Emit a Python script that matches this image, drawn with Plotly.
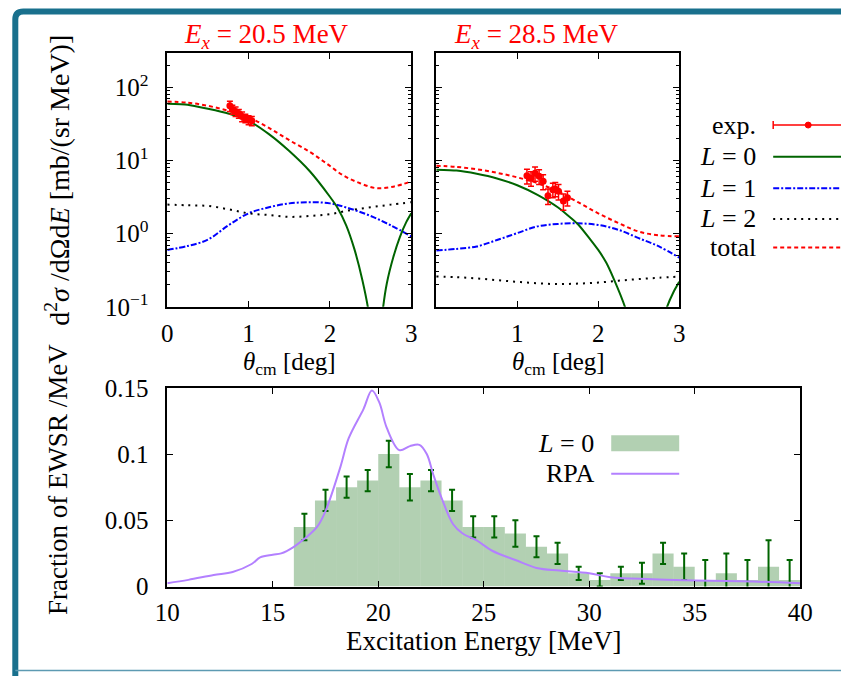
import plotly.graph_objects as go

W, H = 841, 676
# The photographed picture is the page scaled by ~0.9716 and centred; reference pixel
# positions are mapped back to page pixels with this transform.
SC, OFX, OFY = 0.9716, 11.7, 9.6

# ---------------- data ----------------
# Top-left panel (Ex = 20.5 MeV)
th_L0_a = [0, 0.25, 0.5, 0.75, 1.0, 1.25, 1.5, 1.75, 2.0, 2.1, 2.2, 2.3, 2.4, 2.48, 2.53, 2.56,
           2.6, 2.65, 2.7, 2.78, 2.86, 2.94, 3.0]
L0_a = [60, 58, 51, 44, 35, 23, 13.5, 7.2, 3.2, 2.2, 1.3, 0.62, 0.23, 0.08, 0.02, 0.003,
        0.02, 0.09, 0.21, 0.48, 0.9, 1.45, 1.9]
th_a = [0, 0.25, 0.5, 0.75, 1.0, 1.25, 1.5, 1.75, 2.0, 2.25, 2.5, 2.75, 3.0]
L1_a = [0.6, 0.68, 0.83, 1.3, 1.9, 2.3, 2.6, 2.7, 2.6, 2.2, 1.75, 1.3, 0.92]
L2_a = [2.5, 2.45, 2.4, 2.16, 1.9, 1.8, 1.7, 1.75, 1.85, 2.1, 2.3, 2.5, 2.7]
th_tot_a = [0, 0.25, 0.5, 0.75, 1.0, 1.25, 1.5, 1.75, 1.96, 2.16, 2.37, 2.57, 2.78, 3.0]
tot_a = [64, 62, 56, 48, 39, 28, 19, 13.2, 9.1, 6.3, 4.9, 4.2, 4.4, 5.2]
exp_th_a = [0.77, 0.80, 0.84, 0.88, 0.92, 0.96, 1.00, 1.04]
exp_a = [56, 50, 47, 44, 40, 38, 36, 35]
exp_err_a = [9, 7, 7, 6, 6, 5, 5, 5]

# Top-right panel (Ex = 28.5 MeV)
th_L0_b = [0, 0.25, 0.5, 0.75, 1.0, 1.25, 1.5, 1.75, 2.0, 2.1, 2.2, 2.33, 2.45, 2.55, 2.6,
           2.65, 2.75, 2.85, 2.93, 3.0]
L0_b = [7.5, 7.3, 6.6, 5.7, 4.6, 3.4, 2.3, 1.35, 0.6, 0.4, 0.23, 0.1, 0.035, 0.006, 0.0008,
        0.006, 0.04, 0.1, 0.16, 0.22]
th_b = [0, 0.25, 0.5, 0.75, 1.0, 1.25, 1.5, 1.75, 2.0, 2.25, 2.5, 2.75, 3.0]
L1_b = [0.59, 0.62, 0.67, 0.82, 1.02, 1.26, 1.36, 1.39, 1.32, 1.13, 0.87, 0.67, 0.47]
L2_b = [0.26, 0.255, 0.245, 0.232, 0.22, 0.21, 0.205, 0.208, 0.215, 0.228, 0.24, 0.25, 0.26]
tot_b = [8.5, 8.2, 7.6, 6.8, 5.9, 4.9, 3.8, 2.7, 1.9, 1.4, 1.07, 0.95, 0.92]
exp_th_b = [1.12, 1.17, 1.22, 1.27, 1.32, 1.38, 1.44, 1.47, 1.51, 1.57, 1.62]
exp_b = [6.2, 5.75, 6.7, 6.1, 5.2, 3.3, 4.0, 4.1, 3.8, 2.8, 3.1]
exp_err_b = [1.4, 1.3, 1.5, 1.4, 1.2, 0.8, 0.9, 0.9, 0.9, 0.7, 0.7]

# Bottom panel
bin_centers = [16.5 + i for i in range(24)]
ewsr = [0.045, 0.065, 0.075, 0.080, 0.100, 0.075, 0.080, 0.065, 0.045, 0.045, 0.040, 0.030,
        0.025, 0.010, 0.005, 0.010, 0.010, 0.025, 0.015, 0.005, 0.010, 0.005, 0.015, 0.005]
ewsr_err = [0.010, 0.008, 0.008, 0.008, 0.010, 0.010, 0.008, 0.008, 0.008, 0.008, 0.010, 0.008,
            0.008, 0.005, 0.005, 0.005, 0.008, 0.008, 0.010, 0.015, 0.015, 0.015, 0.020, 0.015]
rpa_e = [10, 11, 12.2, 13.1, 14.0, 14.4, 15.0, 15.4, 16.0, 16.5, 17.1, 17.5, 18.2, 18.6, 19.3, 19.7,
         20.05, 20.4, 21.0, 21.5, 21.95, 22.3, 22.6, 23.0, 23.55, 24.0, 24.65, 25.4, 26.5, 27.5,
         28.6, 30, 31, 33, 35, 37.8, 40]
rpa_v = [0.0025, 0.005, 0.0087, 0.011, 0.017, 0.022, 0.024, 0.025, 0.030, 0.036, 0.045, 0.057,
         0.090, 0.112, 0.134, 0.148, 0.139, 0.120, 0.103, 0.106, 0.107, 0.100, 0.085, 0.067,
         0.047, 0.040, 0.035, 0.027, 0.020, 0.014, 0.012, 0.010, 0.007, 0.0055, 0.0045, 0.0037, 0.0025]

log_ticks = [0.1, 1, 10, 100]
log_ticktext = ["10<sup>\u22121</sup>", "10<sup>0</sup>", "10<sup>1</sup>", "10<sup>2</sup>"]
theta_ticks = [0, 1, 2, 3]
e_ticks = [10, 15, 20, 25, 30, 35, 40]
frac_ticks = [0, 0.05, 0.1, 0.15]
frac_ticktext = ["0", "0.05", "0.1", "0.15"]

# ---------------- style ----------------
FONT = "Liberation Serif, Times New Roman, Times, serif"
FS = 25
RED = "#ff0000"
GREEN = "#006400"
BLUE = "#0000ff"
BLACK = "#000000"
PURPLE = "#b380ff"
BARFILL = "rgba(0,100,0,0.3)"
TEAL = "#19708d"


def px(x):
    return ((x - OFX) / SC) / W


def py(y):
    return 1 - ((y - OFY) / SC) / H


fig = go.Figure()


def add_panel(xa, ya, thL0, L0, th, L1, L2, thT, tot, eth, ev, ee):
    fig.add_trace(go.Scatter(x=th, y=L1, mode="lines", xaxis=xa, yaxis=ya, line_shape="spline",
                             line=dict(color=BLUE, width=2, dash="6px,2px,2px,2px"), showlegend=False))
    fig.add_trace(go.Scatter(x=th, y=L2, mode="lines", xaxis=xa, yaxis=ya, line_shape="spline",
                             line=dict(color=BLACK, width=2, dash="2px,5px"), showlegend=False))
    fig.add_trace(go.Scatter(x=thT, y=tot, mode="lines", xaxis=xa, yaxis=ya, line_shape="spline",
                             line=dict(color=RED, width=2, dash="4px,3px"), showlegend=False))
    fig.add_trace(go.Scatter(x=thL0, y=L0, mode="lines", xaxis=xa, yaxis=ya, line_shape="spline",
                             line=dict(color=GREEN, width=2, smoothing=0.5), showlegend=False))
    fig.add_trace(go.Scatter(x=eth, y=ev, mode="markers", xaxis=xa, yaxis=ya,
                             marker=dict(color=RED, size=7),
                             error_y=dict(type="data", array=ee, color=RED, thickness=1.5, width=3),
                             showlegend=False))


add_panel("x", "y", th_L0_a, L0_a, th_a, L1_a, L2_a, th_tot_a, tot_a, exp_th_a, exp_a, exp_err_a)
add_panel("x2", "y2", th_L0_b, L0_b, th_b, L1_b, L2_b, th_b, tot_b, exp_th_b, exp_b, exp_err_b)

fig.add_trace(go.Bar(x=bin_centers, y=ewsr, width=1, xaxis="x3", yaxis="y3",
                     marker=dict(color=BARFILL, line=dict(width=0)),
                     error_y=dict(type="data", array=ewsr_err, color=GREEN, thickness=2, width=3),
                     showlegend=False))
fig.add_trace(go.Scatter(x=rpa_e, y=rpa_v, mode="lines", xaxis="x3", yaxis="y3", line_shape="spline",
                         line=dict(color=PURPLE, width=2), showlegend=False))

axis_common = dict(showline=True, linecolor=BLACK, linewidth=1.5, mirror="allticks", ticks="inside",
                   ticklen=6, tickcolor=BLACK, tickwidth=1, showgrid=False, zeroline=False,
                   tickfont=dict(family=FONT, size=FS, color=BLACK))
xstand = dict(ticklabelstandoff=3)
ystand = dict(ticklabelstandoff=12)
minor_log = dict(ticks="inside", ticklen=3, dtick="D1", tickcolor=BLACK, showgrid=False)
yr = [-1, 2.472]

fig.update_layout(
    width=W, height=H, margin=dict(l=0, r=0, t=0, b=0), autosize=False,
    paper_bgcolor="white", plot_bgcolor="white", showlegend=False, barmode="overlay",
    xaxis=dict(domain=[px(167), px(411)], range=[0, 3], tickmode="array", tickvals=theta_ticks,
               anchor="y", **axis_common, **xstand),
    yaxis=dict(domain=[py(307), py(50)], type="log", range=yr, tickmode="array", tickvals=log_ticks,
               ticktext=log_ticktext, minor=minor_log, anchor="x", **axis_common, **ystand),
    xaxis2=dict(domain=[px(436), px(679)], range=[0, 3], tickmode="array", tickvals=theta_ticks,
                ticktext=["", "1", "2", "3"], anchor="y2", **axis_common, **xstand),
    yaxis2=dict(domain=[py(307), py(50)], type="log", range=yr, tickmode="array", tickvals=log_ticks,
                showticklabels=False, minor=minor_log, anchor="x2", **axis_common, **ystand),
    xaxis3=dict(domain=[px(167), px(800)], range=[10, 40], tickmode="array", tickvals=e_ticks,
                anchor="y3", **axis_common, **xstand),
    yaxis3=dict(domain=[py(590), py(389)], range=[0, 0.15], tickmode="array", tickvals=frac_ticks,
                ticktext=frac_ticktext, anchor="x3", **axis_common, **ystand),
)

ann = []


def text(x, y, s, color=BLACK, xanchor="center", angle=0, size=25):
    ann.append(dict(x=px(x), y=py(y), xref="paper", yref="paper", text=s, showarrow=False,
                    xanchor=xanchor, yanchor="middle", textangle=angle,
                    font=dict(family=FONT, size=size, color=color)))


EQ = " = "
text(266, 33, "<i>E<sub>x</sub></i>" + EQ + "20.5 MeV", color=RED, size=27)
text(536, 33, "<i>E<sub>x</sub></i>" + EQ + "28.5 MeV", color=RED, size=27)
text(289, 364, "<i>θ</i><sub>cm</sub> [deg]", size=25)
text(558, 364, "<i>θ</i><sub>cm</sub> [deg]", size=25)
text(483, 645, "Excitation Energy [MeV]", size=27)
text(57, 179, "d<sup>2</sup><i>σ</i> /dΩd<i>E</i> [mb/(sr MeV)]", angle=-90, size=28)
text(57, 482, "Fraction of EWSR /MeV", angle=-90, size=27)

# top legend
leg_labels = ["exp.", "<i>L</i>" + EQ + "0", "<i>L</i>" + EQ + "1", "<i>L</i>" + EQ + "2", "total"]
leg_y = [123, 155, 187, 218, 247]
for lab, yy in zip(leg_labels, leg_y):
    text(758, yy, lab, xanchor="right", size=26)
text(596, 445, "<i>L</i>" + EQ + "0", xanchor="right", size=26)
text(596, 476, "RPA", xanchor="right", size=26)

shapes = []


def line(x0, y0, x1, y1, color, width=2, dash="solid"):
    shapes.append(dict(type="line", xref="paper", yref="paper", x0=px(x0), y0=py(y0), x1=px(x1), y1=py(y1),
                       line=dict(color=color, width=width, dash=dash)))


line(773, 123, 860, 123, RED, 1.5)
line(773, 119, 773, 127, RED, 1.5)
shapes.append(dict(type="circle", xref="paper", yref="paper", x0=px(805), x1=px(811), y0=py(126), y1=py(120),
                   fillcolor=RED, line=dict(color=RED, width=1)))
line(773, 155, 860, 155, GREEN, 2)
line(773, 187, 860, 187, BLUE, 2, "6px,2px,2px,2px")
line(773, 218, 860, 218, BLACK, 2, "2px,5px")
line(773, 247, 860, 247, RED, 2, "4px,3px")
shapes.append(dict(type="rect", xref="paper", yref="paper", x0=px(611), x1=px(679), y0=py(453), y1=py(437),
                   fillcolor=BARFILL, line=dict(width=0)))
line(611, 476, 679, 476, PURPLE, 2)

# frame (teal border of the slide)
r = 8
fx, fy = 15, 8
path = (f"M {px(fx)},{py(700)} L {px(fx)},{py(fy + r)} Q {px(fx)},{py(fy)} {px(fx + r)},{py(fy)} "
        f"L {px(880)},{py(fy)}")
shapes.append(dict(type="path", xref="paper", yref="paper", path=path, line=dict(color=TEAL, width=6)))
line(fx, 675, 880, 675, "#5d9ab2", 1.5)

fig.update_layout(annotations=ann, shapes=shapes)
fig.write_html("out.html")
